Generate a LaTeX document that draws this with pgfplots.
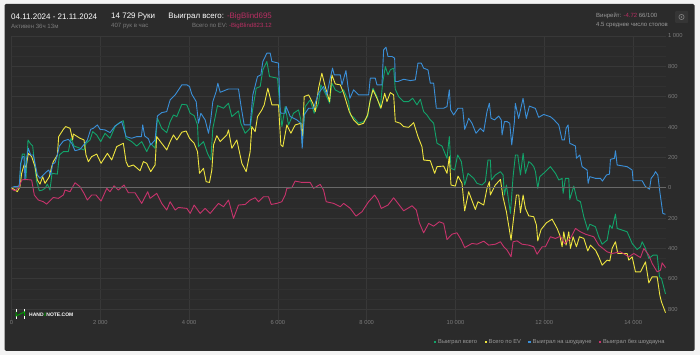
\documentclass[border=0pt]{standalone}
\usepackage{fontspec}
\usepackage{pgfplots}
\pgfplotsset{compat=1.18}
\setmainfont{Liberation Sans}
\definecolor{panel}{HTML}{2B2B2B}
\definecolor{outer}{HTML}{F3F3F3}
\definecolor{gmaj}{HTML}{383838}
\definecolor{gmin}{HTML}{313131}
\definecolor{zero}{HTML}{686868}
\definecolor{cgreen}{HTML}{12A36A}
\definecolor{cyellow}{HTML}{EFE53F}
\definecolor{cblue}{HTML}{3A8FD8}
\definecolor{cpink}{HTML}{C7336C}
\definecolor{tgrey}{HTML}{7C7C7C}
\definecolor{tlight}{HTML}{9A9A9A}
\definecolor{tpink}{HTML}{B92F63}
\newcommand{\fs}[1]{\fontsize{#1}{#1}\selectfont}
\begin{document}
\begin{tikzpicture}[x=1pt,y=1pt]
\fill[outer] (0,0) rectangle (700,355);
\fill[panel,rounded corners=1.5pt] (4.5,4) rectangle (694.5,351);
\begin{axis}[
  at={(11.5pt,34.3pt)},anchor=south west,scale only axis,
  width=654pt,height=284.7pt,
  xmin=0,xmax=14729,ymin=-876,ymax=1000,
  axis line style={draw=none},
  tick style={draw=none},
  scaled x ticks=false,scaled y ticks=false,
  xtick={0,2000,4000,6000,8000,10000,12000,14000},
  xticklabels={0,2 000,4 000,6 000,8 000,10 000,12 000,14 000},
  ytick={-800,-600,-400,-200,0,200,400,600,800,1000},
  yticklabels={800,600,400,200,0,200,400,600,800,1 000},
  yticklabel pos=right,
  minor y tick num=2,
  grid=both,
  major grid style={gmaj,line width=0.7pt},
  minor grid style={gmin,line width=0.5pt},
  x tick label style={font=\fs{5.8},text=tgrey,yshift=3.5pt},
  y tick label style={font=\fs{5.8},text=tgrey,xshift=-1pt},
  clip=false,
  every axis plot/.append style={line width=0.9pt,line join=round},
  legend style={at={(1.0015,-0.0585)},anchor=north east,draw=none,fill=none,font=\fs{5.75},text=tlight,
    legend columns=4,inner sep=0pt,outer sep=0pt,
    /tikz/every even column/.append style={column sep=5.5pt}},
  legend cell align=left,
  legend image code/.code={\fill[#1,draw=none] (0pt,-1pt) rectangle (2.2pt,1.2pt);},
]
\addplot[cgreen] coordinates {(0,0)(100,0)(176,18)(214,161)(244,222)(297,222)(327,62)(372,315)(432,288)(477,275)(530,128)(567,40)(627,-20)(695,-15)(755,-4)(807,24)(867,-15)(912,95)(1033,90)(1078,216)(1168,238)(1280,238)(1340,326)(1408,275)(1543,260)(1633,249)(1678,293)(1768,315)(1829,370)(1919,348)(2009,304)(2107,359)(2219,326)(2332,403)(2429,429)(2519,442)(2580,326)(2707,304)(2820,275)(2932,304)(3045,238)(3135,293)(3233,260)(3286,458)(3383,392)(3496,363)(3573,436)(3648,480)(3723,469)(3836,550)(3949,546)(4024,491)(4114,475)(4189,414)(4211,271)(4324,304)(4414,227)(4489,183)(4534,392)(4640,541)(4775,524)(4887,557)(4962,469)(5112,506)(5165,425)(5262,359)(5375,392)(5435,524)(5511,656)(5601,667)(5661,777)(5751,832)(5811,733)(5991,722)(6051,513)(6089,403)(6164,535)(6239,414)(6352,491)(6464,513)(6517,447)(6547,293)(6615,535)(6727,579)(6817,491)(6915,557)(6967,678)(7065,623)(7163,557)(7215,689)(7290,645)(7405,627)(7480,645)(7592,568)(7630,480)(7705,464)(7818,425)(7930,436)(8020,469)(8065,557)(8141,656)(8230,601)(8306,524)(8358,689)(8419,799)(8479,744)(8531,777)(8606,788)(8644,649)(8719,601)(8832,568)(8944,568)(9034,590)(9132,546)(9207,583)(9282,502)(9357,480)(9432,447)(9507,425)(9583,293)(9695,275)(9808,194)(9860,337)(9898,128)(9980,117)(10048,216)(10131,172)(10206,18)(10281,95)(10409,62)(10484,29)(10596,18)(10671,40)(10731,183)(10784,183)(10806,51)(10896,84)(11011,106)(11071,84)(11101,-48)(11146,18)(11236,-169)(11296,73)(11349,216)(11402,216)(11462,84)(11522,227)(11574,95)(11649,172)(11702,161)(11762,139)(11800,106)(11852,-4)(11897,73)(12025,106)(12137,139)(12250,95)(12325,51)(12400,62)(12423,-37)(12475,62)(12550,62)(12573,-77)(12663,11)(12738,-81)(12813,-92)(12889,-191)(12979,-279)(13024,-240)(13151,-257)(13226,-323)(13302,-372)(13414,-345)(13474,-246)(13527,-268)(13602,-174)(13640,-268)(13865,-290)(13978,-367)(14090,-407)(14165,-389)(14203,-356)(14278,-400)(14353,-466)(14450,-444)(14541,-444)(14593,-587)(14638,-598)(14729,-700)};
\addlegendentry{Выиграл всего}
\addplot[cyellow] coordinates {(0,0)(78,-15)(131,-26)(191,7)(229,95)(282,150)(327,134)(379,227)(454,205)(530,139)(582,51)(642,24)(702,73)(755,29)(852,73)(905,139)(942,172)(1033,216)(1063,337)(1168,385)(1220,403)(1318,392)(1378,315)(1393,354)(1543,326)(1633,315)(1678,216)(1731,172)(1806,205)(1919,222)(2017,161)(2160,227)(2257,183)(2369,271)(2519,293)(2580,172)(2632,139)(2745,150)(2895,112)(2970,172)(3045,161)(3135,106)(3233,150)(3270,337)(3383,293)(3496,249)(3573,304)(3648,348)(3723,315)(3836,366)(3934,374)(4009,326)(4114,293)(4189,238)(4234,95)(4324,128)(4384,40)(4459,35)(4512,117)(4549,282)(4624,343)(4700,304)(4850,348)(4887,381)(4962,260)(5075,315)(5188,161)(5285,106)(5375,238)(5412,403)(5488,370)(5541,469)(5638,513)(5691,546)(5773,656)(5864,546)(6014,546)(6066,282)(6111,271)(6201,414)(6292,359)(6389,414)(6517,425)(6547,315)(6592,601)(6690,612)(6787,557)(6840,502)(6915,656)(6990,755)(7065,667)(7163,568)(7215,744)(7292,684)(7405,678)(7480,623)(7607,502)(7705,447)(7818,414)(7930,425)(8020,480)(8080,579)(8141,645)(8230,590)(8321,524)(8404,623)(8456,568)(8531,627)(8606,612)(8644,436)(8757,425)(8832,403)(8944,398)(9057,429)(9154,337)(9244,271)(9282,183)(9432,178)(9530,95)(9583,139)(9733,143)(9808,95)(9860,205)(9898,18)(9995,11)(10056,77)(10146,29)(10206,-152)(10296,-26)(10446,-143)(10506,-92)(10634,-114)(10709,-4)(10762,40)(10784,-48)(10896,18)(11011,55)(11071,-64)(11146,-158)(11251,-345)(11311,-191)(11371,-48)(11424,-48)(11462,-165)(11522,-48)(11574,-136)(11649,-185)(11762,-191)(11822,-246)(11852,-350)(11927,-275)(12047,-231)(12175,-207)(12288,-268)(12348,-312)(12400,-389)(12438,-290)(12490,-378)(12550,-290)(12588,-400)(12648,-323)(12723,-389)(12791,-323)(12889,-334)(12979,-416)(13039,-378)(13151,-411)(13226,-455)(13302,-510)(13414,-477)(13474,-482)(13527,-400)(13602,-356)(13654,-433)(13865,-433)(13902,-477)(13978,-455)(14052,-554)(14165,-554)(14278,-488)(14353,-627)(14428,-587)(14541,-587)(14601,-708)(14638,-752)(14729,-823)};
\addlegendentry{Всего по EV}
\addplot[cblue] coordinates {(0,0)(56,7)(116,7)(176,11)(206,161)(252,205)(282,205)(304,51)(342,194)(379,260)(432,216)(492,216)(537,150)(582,84)(642,62)(717,84)(792,106)(837,117)(882,84)(927,156)(980,165)(1033,216)(1078,275)(1168,308)(1280,319)(1356,293)(1431,244)(1543,253)(1656,293)(1708,315)(1784,385)(1844,392)(1934,414)(1994,385)(2107,381)(2219,363)(2332,407)(2482,436)(2580,337)(2707,326)(2820,337)(2925,337)(2955,414)(3000,341)(3083,323)(3135,282)(3233,315)(3286,473)(3383,495)(3496,502)(3573,579)(3686,612)(3761,645)(3836,678)(3949,678)(4009,667)(4061,616)(4159,568)(4211,425)(4264,491)(4362,447)(4437,359)(4482,436)(4534,568)(4609,634)(4647,689)(4700,629)(4887,651)(5112,651)(5165,546)(5240,414)(5375,414)(5435,612)(5541,733)(5616,744)(5661,832)(5751,887)(5826,887)(5864,832)(6014,821)(6051,502)(6074,491)(6164,491)(6186,535)(6277,469)(6427,447)(6517,425)(6547,260)(6592,480)(6690,524)(6802,524)(6915,623)(7028,667)(7103,612)(7178,722)(7230,788)(7268,744)(7292,744)(7405,744)(7442,678)(7532,772)(7577,667)(7622,590)(7705,645)(7818,612)(8043,612)(8080,722)(8193,722)(8230,678)(8343,678)(8381,909)(8434,926)(8479,865)(8569,865)(8629,854)(8644,700)(8704,700)(8832,715)(8982,706)(9094,711)(9154,821)(9229,821)(9282,788)(9380,777)(9432,689)(9507,689)(9568,524)(9733,524)(9808,535)(9860,645)(9890,513)(9958,480)(10056,524)(10161,524)(10206,385)(10259,425)(10296,458)(10371,425)(10461,359)(10559,392)(10634,370)(10709,502)(10762,557)(10799,458)(10881,447)(10972,473)(11030,447)(11048,348)(11101,436)(11161,436)(11221,425)(11266,282)(11326,436)(11347,556)(11422,457)(11520,589)(11595,457)(11663,538)(11798,523)(11873,464)(11986,483)(12136,468)(12211,450)(12325,414)(12400,315)(12453,315)(12490,392)(12535,414)(12573,293)(12701,275)(12723,194)(12798,216)(12851,139)(12964,117)(12986,29)(13024,73)(13151,62)(13264,62)(13309,44)(13399,84)(13467,90)(13489,187)(13579,194)(13602,244)(13640,150)(13865,139)(13978,117)(14000,46)(14203,46)(14278,7)(14368,-9)(14405,62)(14466,84)(14503,106)(14556,84)(14601,-26)(14668,-169)(14729,-175)};
\addlegendentry{Выиграл на шоудауне}
\addplot[cpink] coordinates {(0,-9)(78,-20)(176,7)(229,51)(304,55)(454,51)(514,-48)(604,-81)(717,-92)(792,-108)(867,-86)(942,-64)(1055,-70)(1168,-48)(1205,-15)(1318,-26)(1431,33)(1543,7)(1633,-37)(1708,-81)(1806,-48)(1904,-48)(2017,-88)(2145,-4)(2219,-26)(2310,13)(2407,-15)(2534,18)(2632,-33)(2782,-33)(2932,-103)(3068,-26)(3120,-70)(3270,-37)(3383,-103)(3496,-147)(3573,-92)(3686,-147)(3761,-130)(3949,-136)(4024,-169)(4114,-114)(4249,-169)(4362,-136)(4474,-169)(4662,-103)(4775,-125)(4887,-81)(5000,-202)(5112,-114)(5262,-110)(5375,-81)(5488,-66)(5563,-92)(5676,-59)(5788,-59)(5849,-110)(5976,-103)(6089,-92)(6164,-48)(6201,-4)(6314,0)(6389,44)(6540,35)(6727,35)(6802,-4)(6952,22)(7028,-15)(7088,-92)(7253,-103)(7405,-125)(7480,-103)(7630,-136)(7758,-187)(7893,-158)(8043,-92)(8178,-48)(8253,-81)(8328,-136)(8479,-114)(8606,-66)(8704,-103)(8832,-152)(9019,-119)(9117,-147)(9185,-231)(9282,-297)(9395,-235)(9507,-253)(9635,-224)(9733,-235)(9808,-341)(9920,-306)(10033,-297)(10131,-345)(10206,-394)(10371,-367)(10484,-372)(10634,-352)(10746,-378)(10896,-372)(11011,-356)(11086,-389)(11161,-411)(11251,-455)(11296,-356)(11386,-350)(11499,-372)(11649,-378)(11762,-389)(11837,-438)(11950,-389)(12025,-389)(12137,-323)(12250,-334)(12363,-319)(12453,-367)(12588,-334)(12701,-268)(12813,-290)(12926,-306)(13114,-323)(13226,-378)(13414,-422)(13527,-433)(13714,-422)(13902,-455)(14015,-433)(14165,-460)(14241,-400)(14353,-444)(14428,-499)(14541,-554)(14616,-543)(14653,-495)(14729,-526)};
\addlegendentry{Выиграл без шоудауна}
\draw[zero,line width=0.9pt] (axis cs:0,0) -- (axis cs:14729,0);
\end{axis}
% header text
\node[anchor=west,inner sep=0,text=white,font=\fs{8}] at (11,338.5) {04.11.2024 - 21.11.2024};
\node[anchor=west,inner sep=0,text=tgrey,font=\fs{6.1}] at (11,329) {Активен 36ч 13м};
\node[anchor=west,inner sep=0,text=white,font=\fs{8}] at (111,338.5) {14 729 Руки};
\node[anchor=west,inner sep=0,text=tgrey,font=\fs{6.1}] at (111,329) {407 рук в час};
\node[anchor=east,inner sep=0,font=\fs{7.9}] at (272,338.5) {\textcolor{white}{Выиграл всего:} \textcolor{tpink}{-BigBlind695}};
\node[anchor=east,inner sep=0,font=\fs{6.05}] at (272,329) {\textcolor{tgrey}{Всего по EV:} \textcolor{tpink}{-BigBlind823.12}};
\node[anchor=west,inner sep=0,font=\fs{6}] at (596,339) {\textcolor{tlight}{Винрейт:} \textcolor{tpink}{-4.72} \textcolor{tlight}{66/100}};
\node[anchor=west,inner sep=0,text=tlight,font=\fs{6}] at (596,330) {4.5 среднее число столов};
% settings button
\fill[fill=white,fill opacity=0.05,rounded corners=1pt] (675,332) rectangle (688,344);
\draw[tgrey,line width=0.7pt] (681.5,338) circle (2.6);
\fill[tgrey] (681.5,338) circle (0.9);
% logo
\draw[white,line width=1pt] (16,46) -- (16,43) (16,39) -- (16,36) (24.5,46) -- (24.5,43) (24.5,39) -- (24.5,36);
\draw[green!60!black,line width=1pt] (16,43) -- (16,39) -- (24.5,43) -- (24.5,39);
\node[anchor=west,inner sep=0,text=white,font=\fs{5}\bfseries] at (29,40.5) {HAND\textcolor{green!50!black}{2}NOTE.COM};
\end{tikzpicture}
\end{document}
